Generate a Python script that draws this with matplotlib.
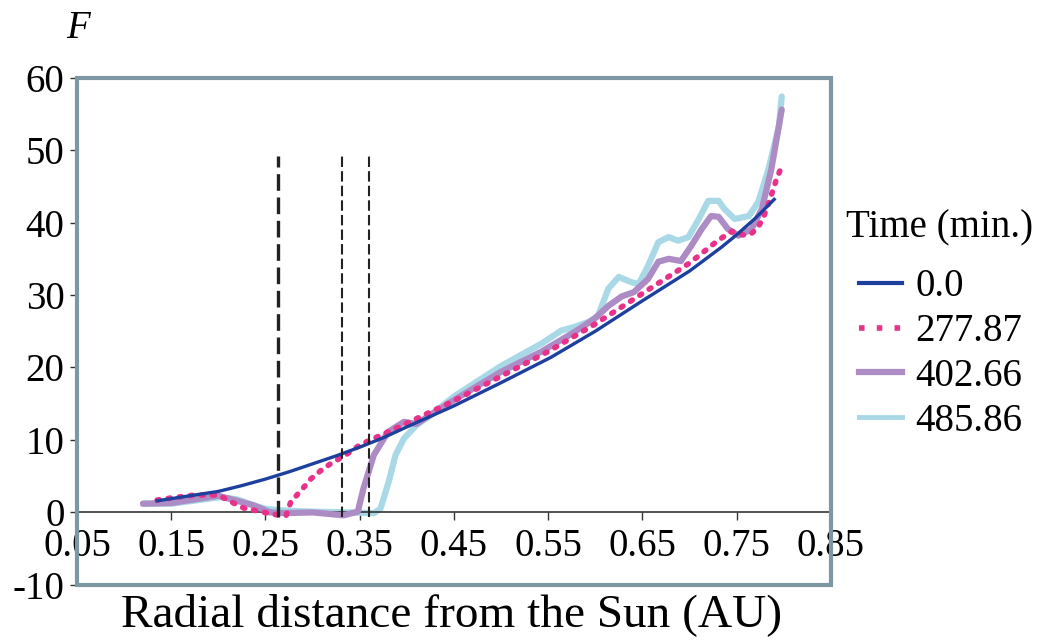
import numpy as np
import matplotlib.pyplot as plt
from matplotlib.patches import Rectangle
from matplotlib.lines import Line2D

plt.rcParams['font.family'] = ['Liberation Serif', 'DejaVu Serif']
plt.rcParams['font.size'] = 28
plt.rcParams['axes.unicode_minus'] = False

# F profiles at each time step
blue_x = [0.135, 0.15, 0.175, 0.2, 0.225, 0.25, 0.275, 0.3, 0.325, 0.35, 0.375, 0.4, 0.45, 0.5,
          0.553, 0.6, 0.65, 0.7, 0.734, 0.75, 0.77, 0.79]
blue_y = [1.6, 1.9, 2.4, 2.9, 3.7, 4.6, 5.6, 6.7, 7.8, 9.0, 10.3, 11.8, 14.7, 17.9,
          21.4, 25.0, 29.2, 33.3, 36.6, 38.3, 40.6, 43.2]

pink_x = [0.135, 0.15, 0.175, 0.2, 0.213, 0.227, 0.245, 0.26, 0.272, 0.277, 0.287, 0.298, 0.309,
          0.32, 0.335, 0.35, 0.4, 0.45, 0.5, 0.55, 0.6, 0.65, 0.7, 0.73, 0.745, 0.757, 0.765,
          0.772, 0.778, 0.785, 0.792, 0.798]
pink_y = [1.7, 2.0, 2.4, 2.4, 1.5, 0.6, 0.1, -0.3, -0.4, 1.5, 2.9, 4.6, 5.8,
          6.8, 7.9, 9.3, 12.3, 15.4, 18.8, 22.2, 26.0, 30.2, 34.4, 37.5, 38.8, 38.3, 38.4,
          39.2, 40.5, 43.0, 45.8, 47.8]

purple_x = [0.12, 0.15, 0.2, 0.237, 0.255, 0.27, 0.3, 0.333, 0.348, 0.354, 0.365, 0.38, 0.397,
            0.41, 0.45, 0.5, 0.543, 0.578, 0.599, 0.614, 0.628, 0.641, 0.656, 0.667, 0.678,
            0.691, 0.702, 0.713, 0.723, 0.731, 0.741, 0.752, 0.766, 0.777, 0.787, 0.798]
purple_y = [1.2, 1.3, 2.3, 1.0, 0.0, -0.1, 0.0, -0.4, 0.1, 3.3, 7.9, 11.1, 12.5,
            12.2, 15.5, 19.4, 22.2, 24.9, 26.7, 28.5, 29.8, 30.4, 32.2, 34.6, 35.0,
            34.7, 36.8, 39.1, 40.9, 40.8, 39.1, 38.2, 39.1, 41.9, 47.4, 55.6]

cyan_x = [0.12, 0.15, 0.167, 0.202, 0.22, 0.237, 0.25, 0.263, 0.3, 0.34, 0.365, 0.372, 0.381,
          0.388, 0.397, 0.41, 0.425, 0.45, 0.5, 0.543, 0.564, 0.578, 0.593, 0.603, 0.614,
          0.625, 0.638, 0.646, 0.656, 0.667, 0.678, 0.688, 0.699, 0.71, 0.72, 0.731, 0.737,
          0.748, 0.763, 0.773, 0.784, 0.795, 0.798]
cyan_y = [1.2, 1.2, 1.5, 2.1, 1.8, 1.0, 0.5, 0.3, 0.1, 0.0, -0.1, 0.5, 4.3,
          7.9, 10.2, 12.0, 13.4, 16.0, 20.2, 23.3, 25.1, 25.6, 26.3, 27.1, 30.9,
          32.5, 31.8, 31.5, 34.0, 37.3, 38.0, 37.5, 38.0, 40.5, 43.0, 43.0, 41.9,
          40.5, 40.9, 42.8, 47.4, 53.3, 57.4]

times = ['0.0', '277.87', '402.66', '485.86']
colors = ['#1d3f9e', '#e8328a', '#ad8cc6', '#a9d9e7']

# boundary markers
vlines_x = [0.263, 0.3316, 0.36]
vlines_w = [2.4, 1.5, 1.5]
vline_top = 49.2

xticks = [0.05, 0.15, 0.25, 0.35, 0.45, 0.55, 0.65, 0.75, 0.85]
yticks = [-10, 0, 10, 20, 30, 40, 50, 60]

fig = plt.figure(figsize=(10.41, 6.42), dpi=100)
ax = fig.add_axes([0.074, 0.089, 0.724, 0.790])

ax.plot(cyan_x, cyan_y, color=colors[3], lw=4.5, solid_capstyle='round',
        solid_joinstyle='round', zorder=2)
ax.plot(purple_x, purple_y, color=colors[2], lw=4.5, solid_capstyle='round',
        solid_joinstyle='round', zorder=3)
ax.plot(pink_x, pink_y, color=colors[1], lw=4, linestyle=(0, (0.4, 1.6)),
        dash_capstyle='round', zorder=4)
ax.plot(blue_x, blue_y, color=colors[0], lw=2.4, solid_joinstyle='round', zorder=5)

for xv, w in zip(vlines_x, vlines_w):
    ax.plot([xv, xv], [-0.6, vline_top], color='#222222', lw=w,
            linestyle=(0, (5, 2)), zorder=6)

ax.set_xlim(0.05, 0.85)
ax.set_ylim(-10, 60)
ax.set_xticks(xticks)
ax.set_xticklabels([f'{v:.2f}' for v in xticks])
ax.set_yticks(yticks)

for s in ['top', 'right', 'left']:
    ax.spines[s].set_visible(False)
ax.spines['bottom'].set_position(('data', 0))
ax.spines['bottom'].set_color('#333333')
ax.spines['bottom'].set_linewidth(1.2)
ax.tick_params(axis='x', length=6, width=1, color='#333333', pad=5)
ax.tick_params(axis='y', length=5, width=1, color='#333333', pad=4)

# outer frame
ax.add_patch(Rectangle((0, 0), 1, 1, transform=ax.transAxes, fill=False,
                       ec='#7d98a3', lw=3, clip_on=False, zorder=7))

handles = [
    Line2D([], [], color=colors[0], lw=3),
    Line2D([], [], color=colors[1], lw=4, linestyle=(0, (1, 2.2))),
    Line2D([], [], color=colors[2], lw=4.5),
    Line2D([], [], color=colors[3], lw=3.5),
]
fig.text(0.903, 0.645, 'Time (min.)', ha='center', va='center')
fig.legend(handles, times, loc='upper left',
           bbox_to_anchor=(0.825, 0.582), frameon=False, handlelength=1.1,
           handletextpad=0.35, labelspacing=0.2, borderpad=0, borderaxespad=0)

fig.text(0.075, 0.956, 'F', style='italic', ha='center', va='center')
fig.text(0.434, 0.042, 'Radial distance from the Sun (AU)', ha='center', va='center',
         fontsize=34)

fig.savefig('out.png', dpi=100)
